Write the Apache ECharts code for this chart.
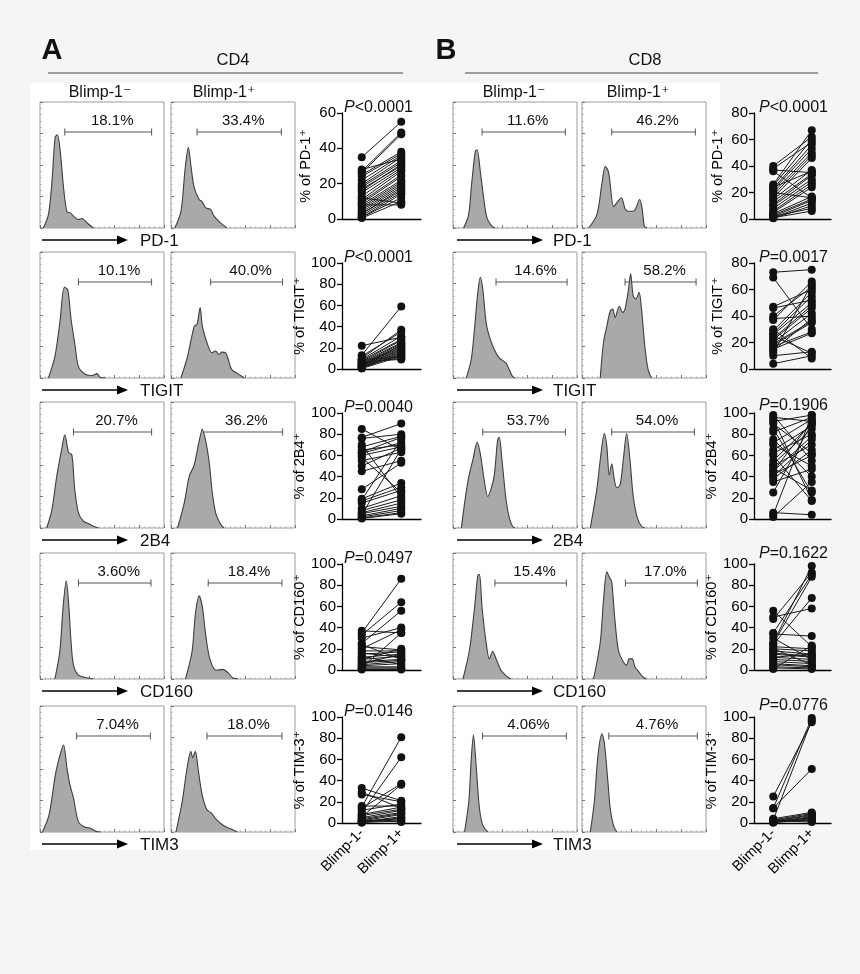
<!DOCTYPE html>
<html><head><meta charset="utf-8">
<script src="https://cdn.jsdelivr.net/npm/echarts@6/dist/echarts.min.js"></script>
<style>html,body{margin:0;padding:0;background:#f5f5f5}#c{width:860px;height:974px}</style>
</head><body><div id="c"></div><script>
// ---------------- data ----------------
const markers = ['PD-1', 'TIGIT', '2B4', 'CD160', 'TIM3'];
const yNames = ['% of PD-1⁺', '% of TIGIT⁺', '% of 2B4⁺', '% of CD160⁺', '% of TIM-3⁺'];
const groupLabels = ['Blimp-1-', 'Blimp-1+'];
const pCD4 = ['<0.0001', '<0.0001', '=0.0040', '=0.0497', '=0.0146'];
const pCD8 = ['<0.0001', '=0.0017', '=0.1906', '=0.1622', '=0.0776'];
const yMaxCD4 = [60, 100, 100, 100, 100];
const yMaxCD8 = [80, 80, 100, 100, 100];

const pctCD4Neg = ['18.1%', '10.1%', '20.7%', '3.60%', '7.04%'];
const pctCD4Pos = ['33.4%', '40.0%', '36.2%', '18.4%', '18.0%'];
const pctCD8Neg = ['11.6%', '14.6%', '53.7%', '15.4%', '4.06%'];
const pctCD8Pos = ['46.2%', '58.2%', '54.0%', '17.0%', '4.76%'];

const gateCD4Neg = [[20, 90], [31, 90], [27, 90], [31, 89.5], [29.5, 89]];
const gateCD4Pos = [[21, 89], [32, 90], [25, 90], [30, 89.5], [29, 89.5]];
const gateCD8Neg = [[23.4, 90.6], [34.7, 92], [24, 90.7], [33.8, 91.4], [23.8, 91.4]];
const gateCD8Pos = [[24, 91.4], [34.7, 92], [24, 90.7], [35, 93], [21.6, 93]];

// histogram traces: [fluorescence (0-100 display scale), % of mode]
const histCD4Neg = [
  [[2.7,0],[6.8,10.6],[9.5,34.8],[12.2,72],[14,74],[16.3,61],[19,32],[21.7,13],[24.4,12],[27,9.4],[31,6.7],[33.9,7.5],[38,4],[43,0]],
  [[6.8,0],[12,17],[16,44],[19.7,72],[22.4,70],[25,47],[28.4,25],[31,9],[36.5,3],[42,2],[46,3.5],[48.6,0.5],[53,0]],
  [[5.4,0],[9.5,14],[13.5,41],[17.6,63],[20,74],[23,60],[25.7,58],[28,31],[31,12],[35,5.5],[39,3.5],[43,1.4],[47,0]],
  [[12,0],[16,22],[18.6,57],[21.2,78],[23.3,57],[25,30],[27,11],[31,3],[37.6,1],[43,0]],
  [[2,0],[7.3,13.5],[12.5,46],[16.4,62],[19,69],[21.7,51],[24,38],[27,27],[31,8],[36,4],[40.7,3],[45,0.5],[49,0]]
];
const histCD4Pos = [
  [[3,0],[8,13],[11.5,48],[14,64],[16,50],[18.7,32],[22.7,22.7],[25,21],[28,16],[32,14.7],[34.7,9.4],[38.7,5.3],[45,0]],
  [[8,0],[13.3,17],[18.7,41],[21,42.7],[23.5,56],[25.3,41],[29,28],[33,20],[36,21.3],[38.7,18.7],[41,20.5],[44,20],[46.7,13],[49,6.7],[55,2.7],[59,0]],
  [[5.3,0],[10.7,20],[14.7,41],[18.7,50],[22.7,69],[25.3,78],[28,69],[30.7,53],[33.3,28],[36,12],[40,3],[42.7,0]],
  [[11.7,0],[17,22],[19.6,51],[22.7,66],[25.3,57],[28,35],[31.3,16],[36.5,7],[41.8,7.6],[46,5],[49.6,1],[54,0]],
  [[4,0],[9,24],[13,51],[16,64],[17.5,59],[19.6,64],[22,49],[25,30],[28.7,18],[32.6,15],[36.5,10],[42,5.4],[47,3],[53.5,0]]
];
const histCD8Neg = [
  [[8.6,0],[12.6,10.6],[15,34.6],[18,61],[19.4,62],[22,45],[24.7,24],[27.4,8],[31.5,1.3],[34,0]],
  [[10.7,0],[14.7,14.7],[17.3,38.7],[20,68],[22,80],[24,70.7],[26.7,44],[29.3,33],[33.3,22.7],[37.3,16],[42.7,12],[45.3,6.7],[48,1.3],[50,0]],
  [[6.7,0],[12,37],[16,54],[19.5,68],[22,59],[25.3,37],[28,25],[30.7,31],[33.3,42],[36,70],[37.3,72],[39.5,54],[42.7,23],[45.3,8.5],[48,1.4],[50,0]],
  [[8,0],[13.3,23],[17.3,56],[20,82],[21.3,83],[23.5,56],[26.7,29],[29.3,16],[32,22],[34.7,16],[38.7,7],[42.7,2.7],[46.7,0]],
  [[9.3,0],[12.8,24.6],[14.7,57.5],[16.5,77],[18.7,52],[21.3,19],[24,5.5],[28,0]]
];
const histCD8Pos = [
  [[5.4,0],[12,10.6],[16,34.6],[18.8,49],[21.5,44],[25.5,17],[28,20],[31.7,24],[35,14.7],[37.6,13.3],[41,13.3],[43,14.7],[46.5,22.6],[48.4,16],[50.3,1.3],[52.4,0]],
  [[14.7,0],[17.3,28],[20,41],[22.7,53],[24.8,54.7],[26.7,48],[30,57],[32.8,52],[34.7,54.7],[37.3,69],[39.2,82.7],[41.3,65],[43.5,62.7],[46,68],[48,54.7],[50.7,25],[53.3,6.7],[56,0]],
  [[6.7,0],[12,31],[14.7,54],[18,75],[20,65],[22,42],[24,51],[26,39],[28,32],[30.7,34],[33.3,54],[36,75],[38.7,54],[41.3,25],[44.5,8.5],[48,1.4],[50.7,0]],
  [[9.3,0],[14.7,29],[17.3,62],[20,85],[22,81],[24,77],[26,53],[29.3,23],[33.3,13.7],[36,11],[38,16],[40.5,16],[42.7,9.6],[46,5.5],[49.3,1.4],[52,0]],
  [[6.7,0],[10,24.6],[12.8,60],[16,78],[18,71],[20.8,41],[22.7,19],[25.3,5.5],[28,0]]
];

// paired donor values (% positive): Blimp-1- vs Blimp-1+
const cd4PairNeg = [
  [35,27,26,25,24,22,20,28,19,18,17,16,15,13,11,10,9,8,7,6,5,4,3,2,1,0.5,12,8,1,3],
  [13,22,10,12,9,8,7,6,5,5,4,4,3,3,2,2,1,1,0.5,6,7,9,3,2],
  [85,77,76,70,68,65,63,62,60,58,55,50,45,28,19,17,15,10,8,6,5,3,2,1,0.5,18,4],
  [35,33,25,30,20,37,22,18,16,15,13,12,10,8,7,5,4,3,2,1,0.5,10,24,6,2],
  [15,10,14,6,33,27,29,12,16,8,7,5,4,3,2,1,0.5,2,1,0.5,3]
];
const cd4PairPos = [
  [55,49,48,38,37,36,35,34,33,32,30,31,29,28,27,25,24,22,21,20,19,18,16,15,14,10,9,8,12,17],
  [59,30,37,35,31,28,27,25,24,22,21,20,19,18,17,16,15,14,12,10,9,11,23,13],
  [65,90,80,20,78,70,77,72,68,25,63,67,55,53,34,30,27,22,18,15,12,10,8,6,5,75,66],
  [86,64,56,40,38,35,19,18,12,17,5,15,13,10,9,8,6,3,2,1,0.5,20,10,15,35],
  [81,62,37,36,21,20,14,18,16,15,13,12,10,9,8,6,5,4,3,2,1]
];
const cd8PairNeg = [
  [40,38,37,36,26,25,23,22,20,18,16,15,13,11,10,8,6,5,4,3,2,1,0.5,2,1,20,24],
  [73,69,47,46,40,38,37,29,27,26,25,23,22,20,19,18,17,15,14,12,10,4,30],
  [98,96,94,92,90,85,82,75,72,70,65,62,60,55,52,50,48,45,42,40,38,35,25,6,4,2,45],
  [56,50,48,35,34,26,25,24,22,20,18,16,15,12,10,8,6,5,3,2,1,20,12,30],
  [25,14,3,14,4,3,2,2,1,1,0.5,0.5,3,2,1]
];
const cd8PairPos = [
  [62,58,35,16,67,60,56,53,50,48,46,37,34,33,30,28,26,24,17,15,14,12,10,8,6,16,36],
  [75,30,60,52,62,40,66,58,55,50,12,48,46,42,36,35,28,27,38,64,13,10,8],
  [55,92,18,98,62,25,96,40,94,50,88,80,17,90,85,70,27,78,60,75,65,47,90,4,98,35,92],
  [22,58,92,90,32,98,88,68,20,18,15,13,12,10,8,6,4,3,2,1,23,5,15,10],
  [95,99,97,51,10,9,8,7,6,5,4,3,2,1,5]
];

// ---------------- layout / style ----------------
const FONT = '"Liberation Sans", Arial, "DejaVu Sans", sans-serif';
const rowTop = [102, 252, 402, 553, 706];
const BOX_W = 124, BOX_H = 126;
const histLeftA = [40, 171], histLeftB = [453, 582];
const pairA = {left: 342, width: 79}, pairB = {left: 754, width: 77};
const PAIR_H = 106;
const GATE_Y = 100 - 30 / BOX_H * 100;
const pOffA = [-5, -5, -5, -5, -5], pOffB = [-5, -5, -7, -10, -11];

const grid = [], xAxis = [], yAxis = [], series = [];

function addHist(left, top, data, gate, pct) {
  const i = grid.length;
  grid.push({left: left, top: top, width: BOX_W, height: BOX_H, show: true,
    borderColor: '#9c9c9c', borderWidth: 1, backgroundColor: 'transparent'});
  const tick = {show: true, inside: true, length: 3, lineStyle: {color: '#777', width: 1}};
  const minor = {show: true, splitNumber: 5, length: 1.5, lineStyle: {color: '#aaa', width: 1}};
  xAxis.push({gridIndex: i, type: 'value', min: 0, max: 100, interval: 20,
    axisLine: {show: false}, axisLabel: {show: false}, splitLine: {show: false},
    axisTick: tick, minorTick: minor});
  yAxis.push({gridIndex: i, type: 'value', min: 0, max: 100, interval: 25,
    axisLine: {show: false}, axisLabel: {show: false}, splitLine: {show: false},
    axisTick: tick, minorTick: minor});
  series.push({type: 'line', xAxisIndex: i, yAxisIndex: i, data: data, smooth: 0.3,
    symbol: 'none', lineStyle: {color: '#3e3e3e', width: 1.1},
    areaStyle: {color: '#a9a9a9', opacity: 1}, silent: true});
  series.push({type: 'custom', xAxisIndex: i, yAxisIndex: i, data: [gate], clip: false,
    silent: true,
    renderItem: function (params, api) {
      const p1 = api.coord([api.value(0), GATE_Y]);
      const p2 = api.coord([api.value(1), GATE_Y]);
      const st = {stroke: '#555', lineWidth: 1};
      return {type: 'group', children: [
        {type: 'line', shape: {x1: p1[0], y1: p1[1], x2: p2[0], y2: p2[1]}, style: st},
        {type: 'line', shape: {x1: p1[0], y1: p1[1] - 3.5, x2: p1[0], y2: p1[1] + 3.5}, style: st},
        {type: 'line', shape: {x1: p2[0], y1: p2[1] - 3.5, x2: p2[0], y2: p2[1] + 3.5}, style: st},
        {type: 'text', x: (p1[0] + p2[0]) / 2 + 4, y: p1[1] - 11,
          style: {text: pct, fill: '#111', font: '15px ' + FONT,
            align: 'center', verticalAlign: 'middle', textAlign: 'center', textVerticalAlign: 'middle'}}
      ]};
    }});
}

function addPair(pos, top, row, neg, posv, yMax, name, showLabels) {
  const i = grid.length;
  grid.push({left: pos.left, top: top, width: pos.width, height: PAIR_H});
  xAxis.push({gridIndex: i, type: 'category', data: groupLabels, boundaryGap: true,
    axisLine: {lineStyle: {color: '#000', width: 1.3}},
    axisTick: {alignWithLabel: true, length: 5, lineStyle: {color: '#000', width: 1.3}},
    axisLabel: {show: showLabels, rotate: 45, fontSize: 14.5, color: '#000', fontFamily: FONT, margin: 8, interval: 0},
    splitLine: {show: false}});
  yAxis.push({gridIndex: i, type: 'value', min: 0, max: yMax, interval: 20,
    axisLine: {show: true, lineStyle: {color: '#000', width: 1.3}},
    axisTick: {show: true, length: 5, lineStyle: {color: '#000', width: 1.3}},
    axisLabel: {fontSize: 15, color: '#000', fontFamily: FONT, margin: 6},
    splitLine: {show: false},
    name: name, nameLocation: 'middle', nameGap: 29,
    nameTextStyle: {fontSize: 14.5, color: '#000', fontFamily: FONT}});
  const data = neg.map((v, k) => [0, v, posv[k]]);
  series.push({type: 'custom', xAxisIndex: i, yAxisIndex: i, data: data, clip: false, silent: true,
    encode: {x: 0, y: [1, 2]},
    renderItem: function (params, api) {
      const a = api.coord([0, api.value(1)]);
      const b = api.coord([1, api.value(2)]);
      return {type: 'group', children: [
        {type: 'line', shape: {x1: a[0], y1: a[1], x2: b[0], y2: b[1]}, style: {stroke: '#1a1a1a', lineWidth: 1}},
        {type: 'circle', shape: {cx: a[0], cy: a[1], r: 4}, style: {fill: '#111'}},
        {type: 'circle', shape: {cx: b[0], cy: b[1], r: 4}, style: {fill: '#111'}}
      ]};
    }});
}

const graphic = [];
function txt(x, y, text, size, opts) {
  opts = opts || {};
  graphic.push({type: 'text', x: x, y: y, z: 10, style: Object.assign({text: text, fill: '#111',
    font: (opts.bold ? 'bold ' : '') + size + 'px ' + (opts.family || FONT),
    align: opts.align || 'center', verticalAlign: 'middle',
    textAlign: opts.align || 'center', textVerticalAlign: 'middle'}, opts.rich ? {rich: opts.rich} : {})});
}
function hline(x1, x2, y, color, w) {
  graphic.push({type: 'line', z: 10, shape: {x1: x1, y1: y, x2: x2, y2: y}, style: {stroke: color, lineWidth: w}});
}
function arrow(x1, x2, y) {
  hline(x1, x2 - 9, y, '#000', 1.6);
  graphic.push({type: 'polygon', z: 10, shape: {points: [[x2, y], [x2 - 11, y - 4.5], [x2 - 11, y + 4.5]]}, style: {fill: '#000'}});
}

// white panel background
graphic.push({type: 'rect', z: -100, shape: {x: 30, y: 83, width: 690, height: 767}, style: {fill: '#ffffff'}});

// panel headers
txt(52, 51, 'A', 29, {bold: true});
txt(446, 51, 'B', 29, {bold: true});
txt(233, 60, 'CD4', 16.5);
txt(645, 60, 'CD8', 16.5);
hline(48, 403, 73, '#444', 1);
hline(465, 818, 73, '#444', 1);
txt(100, 93, 'Blimp-1⁻', 16);
txt(224, 93, 'Blimp-1⁺', 16);
txt(514, 93, 'Blimp-1⁻', 16);
txt(638, 93, 'Blimp-1⁺', 16);

const pRich = {i: {fontStyle: 'italic', fontSize: 16, fontFamily: FONT, fill: '#111', color: '#111'},
               n: {fontSize: 16, fontFamily: FONT, fill: '#111', color: '#111'}};

for (let r = 0; r < 5; r++) {
  const t = rowTop[r];
  addHist(histLeftA[0], t, histCD4Neg[r], gateCD4Neg[r], pctCD4Neg[r]);
  addHist(histLeftA[1], t, histCD4Pos[r], gateCD4Pos[r], pctCD4Pos[r]);
  addHist(histLeftB[0], t, histCD8Neg[r], gateCD8Neg[r], pctCD8Neg[r]);
  addHist(histLeftB[1], t, histCD8Pos[r], gateCD8Pos[r], pctCD8Pos[r]);
  addPair(pairA, t + 11, r, cd4PairNeg[r], cd4PairPos[r], yMaxCD4[r], yNames[r], r === 4);
  addPair(pairB, t + 11, r, cd8PairNeg[r], cd8PairPos[r], yMaxCD8[r], yNames[r], r === 4);
  // marker arrows
  arrow(42, 128, t + 138);
  txt(140, t + 139, markers[r], 17, {align: 'left'});
  arrow(457, 543, t + 138);
  txt(553, t + 139, markers[r], 17, {align: 'left'});
  // p values
  txt(344, t + 11 + pOffA[r], '{i|P}{n|' + pCD4[r] + '}', 16, {align: 'left', rich: pRich});
  txt(759, t + 11 + pOffB[r], '{i|P}{n|' + pCD8[r] + '}', 16, {align: 'left', rich: pRich});
}

const chart = echarts.init(document.getElementById('c'), null, {renderer: 'canvas'});
chart.setOption({
  backgroundColor: '#f5f5f5',
  animation: false,
  textStyle: {fontFamily: FONT},
  grid: grid, xAxis: xAxis, yAxis: yAxis, series: series, graphic: graphic
});
</script></body></html>
